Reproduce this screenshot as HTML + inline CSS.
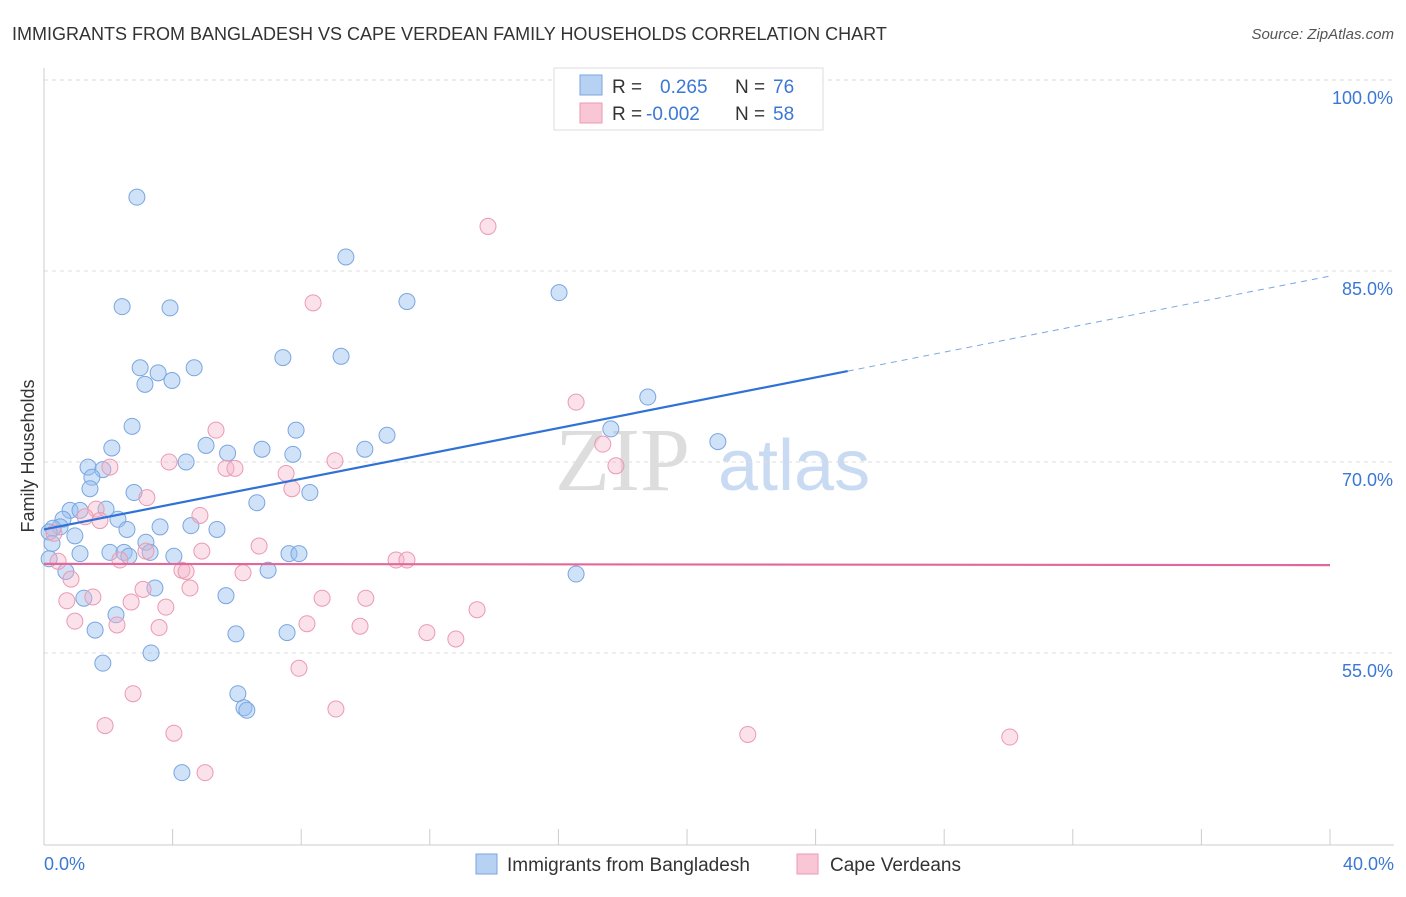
<!DOCTYPE html>
<html><head><meta charset="utf-8"><style>
body{margin:0;background:#fff;font-family:"Liberation Sans",sans-serif}
</style></head><body>
<svg id="c" width="1406" height="892" xmlns="http://www.w3.org/2000/svg" style="font-family:'Liberation Sans',sans-serif">
<text x="12" y="40" font-size="18" fill="#333">IMMIGRANTS FROM BANGLADESH VS CAPE VERDEAN FAMILY HOUSEHOLDS CORRELATION CHART</text>
<text x="1394" y="39" font-size="15" fill="#555" font-style="italic" text-anchor="end">Source: ZipAtlas.com</text>
<text x="34" y="456" font-size="18" fill="#333" text-anchor="middle" transform="rotate(-90 34 456)">Family Households</text>
<g><text x="555" y="490" font-size="90" fill="#ddd" font-family="Liberation Serif">ZIP</text><text x="718" y="490" font-size="72" fill="#c9dbf2">atlas</text></g>
<g id="grid"></g><g id="pts"></g><g id="lines"></g>
<g>
<rect x="554" y="68" width="269" height="62" fill="#fff" stroke="#ddd"/>
<rect x="580" y="75" width="22" height="20" fill="#b7d1f3" stroke="#7aa6e0"/>
<text x="612" y="93" font-size="19" fill="#333">R = </text><text x="660" y="93" font-size="19" fill="#3a78d4">0.265</text>
<text x="735" y="93" font-size="19" fill="#333">N = </text><text x="773" y="93" font-size="19" fill="#3a78d4">76</text>
<rect x="580" y="103" width="22" height="20" fill="#f8c6d4" stroke="#eb9ab2"/>
<text x="612" y="120" font-size="19" fill="#333">R = </text><text x="646" y="120" font-size="19" fill="#3a78d4">-0.002</text>
<text x="735" y="120" font-size="19" fill="#333">N = </text><text x="773" y="120" font-size="19" fill="#3a78d4">58</text>
</g>
<g>
<rect x="476" y="854" width="21" height="20" fill="#b7d1f3" stroke="#7aa6e0"/>
<text x="507" y="871" font-size="19" fill="#333">Immigrants from Bangladesh</text>
<rect x="797" y="854" width="21" height="20" fill="#f8c6d4" stroke="#eb9ab2"/>
<text x="830" y="871" font-size="19" fill="#333">Cape Verdeans</text>
</g>
<text x="44" y="870" font-size="18" fill="#3a78d4">0.0%</text>
<text x="1394" y="870" font-size="18" fill="#3a78d4" text-anchor="end">40.0%</text>
</svg>
<script>
const yTicks=[100,85,70,55];
const xTicks=[0,4,8,12,16,20,24,28,32,36,40];
const blueX=[2.89,9.39,2.43,3.92,11.29,16.02,7.43,9.24,2.99,4.67,3.55,3.14,3.98,18.78,2.74,7.84,10.67,17.63,20.96,2.11,5.04,6.78,9.98,5.71,7.74,4.42,1.37,1.83,1.49,1.43,2.80,8.27,6.62,0.81,1.12,1.93,0.59,2.30,0.5,0.28,0.16,2.58,3.61,4.57,5.38,0.96,0.25,3.17,2.05,1.12,2.49,2.64,3.30,4.04,7.62,7.93,0.16,0.68,6.97,16.55,3.45,1.24,5.66,2.24,1.59,5.97,7.56,3.33,1.83,6.03,6.22,6.31,4.29];
const blueY=[90.8,86.1,82.2,82.1,82.6,83.3,78.2,78.3,77.4,77.4,77.0,76.1,76.4,75.1,72.8,72.5,72.1,72.6,71.6,71.1,71.3,71.0,71.0,70.7,70.6,70.0,69.6,69.4,68.8,67.9,67.6,67.6,66.8,66.2,66.2,66.3,65.5,65.5,64.9,64.8,64.5,64.7,64.9,65.0,64.7,64.2,63.6,63.7,62.9,62.8,62.9,62.6,62.9,62.6,62.8,62.8,62.4,61.4,61.5,61.2,60.1,59.3,59.5,58.0,56.8,56.5,56.6,55.0,54.2,51.8,50.7,50.5,45.6];
const pinkX=[13.81,8.37,16.55,5.35,17.38,2.05,3.89,5.66,5.94,9.05,17.79,7.53,7.71,3.20,1.62,4.85,1.28,1.74,0.31,6.69,4.91,3.17,2.36,10.95,11.29,0.44,4.29,4.42,6.19,0.84,3.08,4.54,1.52,0.71,2.71,8.65,10.01,3.79,13.47,0.96,2.27,3.58,8.18,9.83,11.91,12.81,7.93,2.77,9.08,1.90,4.04,21.89,30.04,5.01];
const pinkY=[88.5,82.5,74.7,72.5,71.4,69.6,70.0,69.5,69.5,70.1,69.7,69.1,67.9,67.2,66.3,65.8,65.7,65.4,64.4,63.4,63.0,63.0,62.3,62.3,62.3,62.2,61.5,61.4,61.3,60.8,60.0,60.1,59.4,59.1,59.0,59.3,59.3,58.6,58.4,57.5,57.2,57.0,57.3,57.1,56.6,56.1,53.8,51.8,50.6,49.3,48.7,48.6,48.4,45.6];
const blueTrend=[64.7,84.6];const pinkTrend=[62.0,61.9];
const X=v=>44+v/40*1286, Y=v=>80+(100-v)*12.733;
const NS='http://www.w3.org/2000/svg';
function mk(t,a,p){const e=document.createElementNS(NS,t);for(const k in a)e.setAttribute(k,a[k]);p.appendChild(e);return e;}
const g=document.getElementById('grid');
yTicks.forEach(t=>{const l=mk('line',{x1:44,y1:Y(t),x2:1394,y2:Y(t),stroke:'#ddd','stroke-dasharray':'4 4'},g);


const tx=mk('text',{x:1393,y:Y(t)+24,'font-size':18,fill:'#3a78d4','text-anchor':'end'},g);tx.textContent=t.toFixed(1)+'%';

});
mk('line',{x1:44,y1:68,x2:44,y2:845,stroke:'#ccc'},g);
mk('line',{x1:44,y1:845,x2:1394,y2:845,stroke:'#ccc'},g);
xTicks.forEach(t=>{const l=mk('line',{x1:X(t),y1:829,x2:X(t),y2:845,stroke:'#ccc'},g);

});
const p=document.getElementById('pts');
blueX.forEach((x,i)=>{const c=mk('circle',{cx:X(x),cy:Y(blueY[i]),r:8,fill:'rgba(150,190,240,0.45)',stroke:'#7aa6e0','stroke-width':1},p);

});
pinkX.forEach((x,i)=>{const c=mk('circle',{cx:X(x),cy:Y(pinkY[i]),r:8,fill:'rgba(245,180,200,0.4)',stroke:'#eb9ab2','stroke-width':1},p);

});
const L=document.getElementById('lines');
const bAt=x=>blueTrend[0]+(blueTrend[1]-blueTrend[0])*x/40;
let l1=mk('line',{x1:X(0),y1:Y(bAt(0)),x2:X(25),y2:Y(bAt(25)),stroke:'#2f72d6','stroke-width':2.2},L);


let l2=mk('line',{x1:X(25),y1:Y(bAt(25)),x2:X(40),y2:Y(bAt(40)),stroke:'#7aa6e0','stroke-width':1,'stroke-dasharray':'6 5'},L);


let l3=mk('line',{x1:X(0),y1:Y(pinkTrend[0]),x2:X(40),y2:Y(pinkTrend[1]),stroke:'#e2679a','stroke-width':2.2},L);


</script>
</body></html>
